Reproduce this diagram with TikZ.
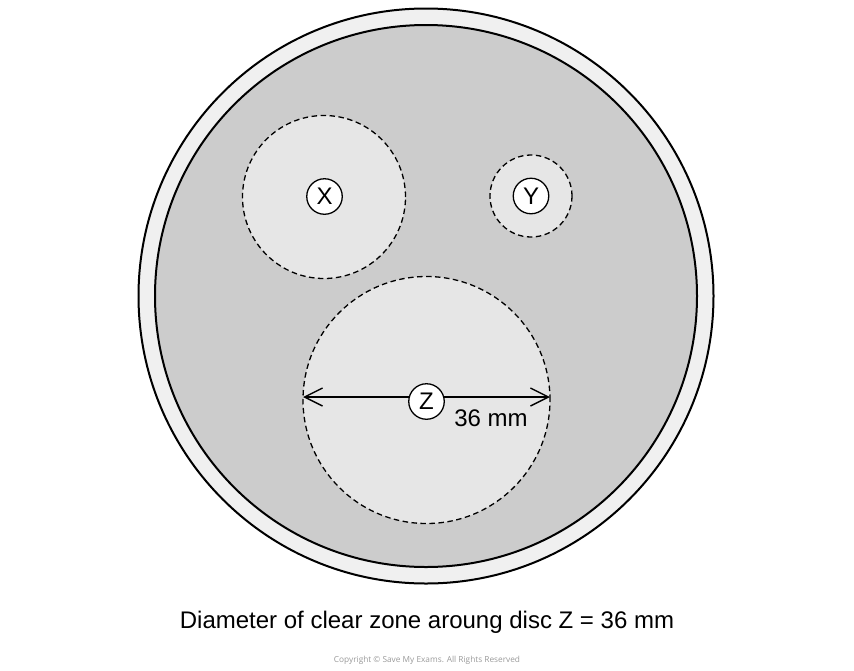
\documentclass[tikz,border=0pt]{standalone}
\usepackage{fontspec}
\setmainfont{Liberation Sans}
\newfontfamily\copyfont{Open Sans}
\usetikzlibrary{arrows.meta}
\definecolor{rimgray}{HTML}{F0F0F0}
\definecolor{agargray}{HTML}{CCCCCC}
\definecolor{zonegray}{HTML}{E6E6E6}
\definecolor{copygray}{HTML}{9A9A9A}
\begin{document}
\begin{tikzpicture}[x=1pt,y=-1pt,
  rim/.style={circle,draw=black,line width=2pt,inner sep=0pt},
  zone/.style={circle,draw=black,dashed,dash pattern=on 5.5pt off 3.5pt,line width=1.3pt,fill=zonegray,inner sep=0pt},
  disc/.style={circle,draw=black,line width=1.3pt,fill=white,inner sep=0pt,minimum size=35.5pt,font=\fontsize{24}{28}\selectfont},
  lbl/.style={font=\fontsize{24}{28}\selectfont,inner sep=0pt}]
\useasboundingbox (0,0) rectangle (854,670);
\node[rim,fill=rimgray,minimum size=575pt] (dish) at (426,296) {};
\node[rim,fill=agargray,minimum size=542pt] (agar) at (426,296) {};
\node[zone,minimum size=163pt] (zx) at (324,197) {};
\node[zone,minimum size=82pt] (zy) at (531,196) {};
\node[zone,minimum size=247pt] (zz) at (426.5,400) {};
\coordinate (zl) at (303,397);
\coordinate (zr) at (550,397);
\draw[line width=1.4pt,{Straight Barb[length=18pt,width=18pt]}-{Straight Barb[length=18pt,width=18pt]}] (zl) -- (zr);
\node[disc] (dx) at (324.5,196.5) {X};
\node[disc] (dy) at (531,196) {Y};
\node[disc] (dz) at (426.5,401.5) {Z};
\node[lbl] (mm) at (491,418) {36 mm};
\node[lbl] (cap) at (427,622) {Diameter of clear zone aroung disc Z = 36 mm};
\node[font=\copyfont\fontsize{8.3}{10}\selectfont,text=copygray,inner sep=0pt] (copy) at (427,660) {Copyright © Save My Exams. All Rights Reserved};
\end{tikzpicture}
\end{document}
